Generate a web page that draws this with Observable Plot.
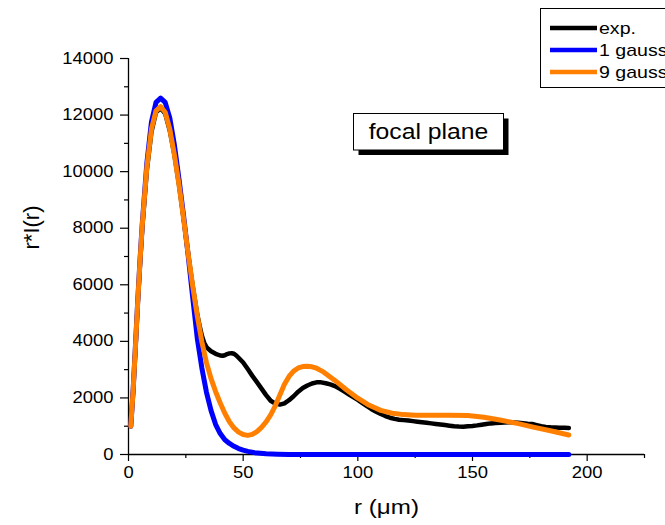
<!DOCTYPE html>
<html><head><meta charset="utf-8">
<script src="https://cdn.jsdelivr.net/npm/d3@7"></script>
<script src="https://cdn.jsdelivr.net/npm/@observablehq/plot@0.6"></script>
<style>html,body{margin:0;padding:0;background:#fff;overflow:hidden}#chart svg{display:block}</style>
</head><body><div id="chart"></div>
<script>
// ---- data ----
const expR = [1,2,3,4,5,6,8,10,12,14,16,18,20,22,24,26,28,30,31,32,33,34,35,36,38,40,41,42,43,44,45,46,47,48,50,52,54,56,58,60,62,64,66,68,70,72,74,76,78,80,82,84,86,88,90,92,94,96,98,100,102,104,106,108,110,112,114,116,118,120,122,124,126,128,130,132,134,136,138,140,142,144,146,148,150,152,154,156,158,160,162,164,166,168,170,172,174,176,178,180,182,184,186,188,190,192];
const expV = [1000,2200,3700,5300,6700,8000,10050,11400,12100,12250,12050,11450,10600,9550,8350,7100,5950,4950,4550,4200,3950,3800,3720,3650,3560,3500,3490,3510,3550,3575,3580,3560,3500,3420,3250,3020,2780,2560,2330,2100,1900,1800,1765,1810,1920,2060,2220,2350,2440,2510,2550,2550,2520,2480,2420,2330,2230,2130,2030,1930,1820,1710,1600,1510,1430,1360,1300,1260,1230,1215,1200,1180,1160,1140,1120,1100,1080,1060,1040,1020,1000,990,985,1000,1010,1030,1055,1080,1100,1115,1125,1135,1140,1130,1120,1105,1090,1080,1040,1000,975,960,955,950,945,940];

const g1R = [1,2,3,4,5,6,8,10,12,14,16,18,20,22,24,26,28,30,32,34,36,38,40,42,44,46,48,50,52,55,60,65,70,80,100,120,140,160,180,192];
const g1V = [1000,2250,3800,5400,6850,8150,10300,11750,12450,12600,12450,11900,10950,9750,8450,7050,5550,4100,3050,2200,1550,1060,740,520,390,290,210,155,110,65,28,12,4,0,0,0,0,0,0,0];

const g9R = [1,2,3,4,5,6,8,10,12,14,16,18,20,22,24,26,28,30,32,34,36,38,40,42,44,46,48,50,52,54,56,58,60,62,64,66,68,70,72,74,76,78,80,82,85,90,95,100,105,110,115,120,125,130,140,148,155,162,170,177,184,192];
const g9V = [1000,2230,3750,5350,6800,8100,10150,11500,12150,12300,12100,11500,10600,9550,8350,7100,5950,4900,3980,3250,2680,2220,1820,1460,1160,940,790,705,675,710,810,960,1150,1400,1720,2100,2480,2760,2950,3060,3110,3120,3100,3050,2920,2620,2290,1990,1740,1560,1460,1410,1390,1385,1390,1380,1320,1220,1090,960,840,690];

const seriesNames = ["exp.", "1 gauss", "9 gauss"];
const seriesColors = ["#000000", "#0000ff", "#ff8000"];
const xMajor = [0, 50, 100, 150, 200];
const xMinor = [25, 75, 125, 175, 225];
const yMajor = [0, 2000, 4000, 6000, 8000, 10000, 12000, 14000];
const yMinor = [1000, 3000, 5000, 7000, 9000, 11000, 13000];
const xTitle = "r (μm)";
const yTitle = "r*I(r)";
const note = "focal plane";

const rows = (rs, vs) => rs.map((r, i) => ({r, v: vs[i]}));
const expRows = rows(expR, expV);
const g1Rows = rows(g1R, g1V);
const g9Rows = rows(g9R, g9V);

const plot = Plot.plot({
  width: 665, height: 525,
  marginLeft: 128, marginRight: 21, marginTop: 58, marginBottom: 71,
  style: {fontFamily: "'Liberation Sans', Arial, sans-serif", fontSize: "16px", color: "#000", background: "#fff", overflow: "hidden"},
  x: {domain: [0, 225]},
  y: {domain: [0, 14000]},
  marks: [
    Plot.axisX({ticks: xMinor, tickSize: 4, tickFormat: () => "", label: null, strokeWidth: 1.2}),
    Plot.axisX({ticks: xMajor, tickSize: 7, tickPadding: 5, tickFormat: d3.format("d"), label: null, strokeWidth: 1.2}),
    Plot.axisY({ticks: yMinor, tickSize: 4, tickFormat: () => "", label: null, strokeWidth: 1.2}),
    Plot.axisY({ticks: yMajor, tickSize: 8, tickPadding: 7, tickFormat: d3.format("d"), label: null, strokeWidth: 1.2}),
    Plot.ruleY([0], {strokeWidth: 1.3}),
    Plot.ruleX([0], {strokeWidth: 1.3}),
    Plot.line(expRows, {x: "r", y: "v", stroke: seriesColors[0], strokeWidth: 4.5}),
    Plot.line(g1Rows, {x: "r", y: "v", stroke: seriesColors[1], strokeWidth: 5}),
    Plot.line(g9Rows, {x: "r", y: "v", stroke: seriesColors[2], strokeWidth: 5}),
    Plot.text([xTitle], {text: d => d, frameAnchor: "bottom", dy: 59, fontSize: 21}),
    Plot.text([yTitle], {text: d => d, frameAnchor: "left", dx: -97, dy: -7, rotate: -90, fontSize: 22})
  ]
});

document.getElementById("chart").appendChild(plot);
const svg = d3.select(plot);

// focal plane annotation box with shadow
const ann = svg.append("g");
ann.append("rect").attr("x", 358.5).attr("y", 118.5).attr("width", 150).attr("height", 36.5).attr("fill", "#000");
ann.append("rect").attr("x", 353.5).attr("y", 113.5).attr("width", 150).attr("height", 36.5).attr("fill", "#fff").attr("stroke", "#000").attr("stroke-width", 1);
ann.append("text").attr("x", 428.5).attr("y", 139).attr("text-anchor", "middle").attr("font-size", 21.5).attr("fill", "#000").text(note);

// legend
const lg = svg.append("g");
lg.append("rect").attr("x", 540.5).attr("y", 8.5).attr("width", 200).attr("height", 79).attr("fill", "#fff").attr("stroke", "#000").attr("stroke-width", 1);
seriesNames.forEach((name, i) => {
  const yy = 28 + i * 22;
  lg.append("line").attr("x1", 550).attr("x2", 597).attr("y1", yy).attr("y2", yy).attr("stroke", seriesColors[i]).attr("stroke-width", 4.5);
  lg.append("text").attr("x", 599).attr("y", yy).attr("dy", "0.36em").attr("text-anchor", "start").attr("font-size", 17).attr("fill", "#000").text(name);
});

// horizontal widening of non-rotated text, as in the reference rendering
svg.selectAll("text").each(function() {
  const t = this.getAttribute("transform") || "";
  if (t.includes("rotate")) return;
  const w = this.getComputedTextLength();
  if (w > 0) {
    this.setAttribute("textLength", (w * 1.15).toFixed(2));
    this.setAttribute("lengthAdjust", "spacingAndGlyphs");
  }
});
</script>
</body></html>
